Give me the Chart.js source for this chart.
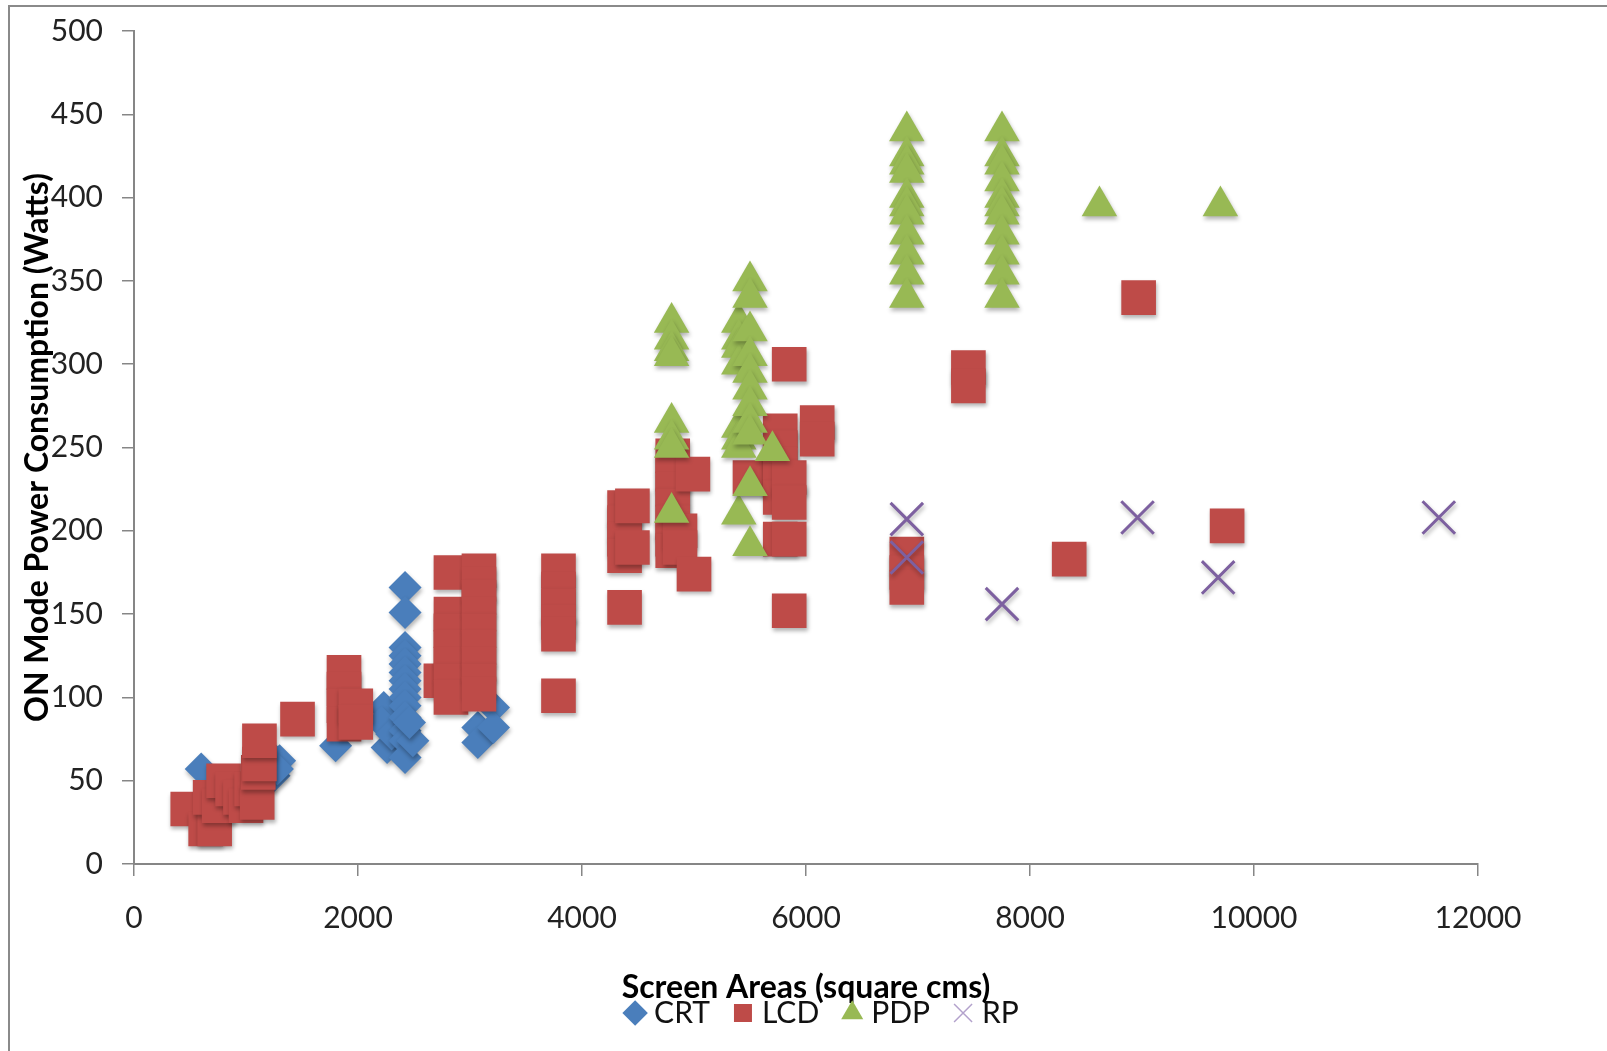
<!DOCTYPE html>
<html>
<head>
<meta charset="utf-8">
<script src="https://cdn.jsdelivr.net/npm/chart.js@4.4.1/dist/chart.umd.min.js"></script>
<style>
  html, body { margin: 0; padding: 0; background: #fff; }
  canvas { display: block; }
</style>
</head>
<body>
<canvas id="chart" width="1607" height="1051"></canvas>
<script>
// [screen area (sq cm), on mode power (W)]
const crtPoints = [
  [600, 57], [1200, 60], [1250, 63], [1250, 53], [1300, 62], [1280, 57],
  [1800, 71],
  [2230, 94], [2210, 85], [2260, 70], [2300, 78],
  [2420, 166], [2420, 151], [2420, 130], [2420, 125], [2420, 120], [2420, 115],
  [2420, 110], [2420, 105], [2420, 100], [2420, 95], [2420, 88], [2420, 80],
  [2420, 74], [2420, 64],
  [2490, 74], [2460, 85],
  [3070, 82], [3070, 73], [3210, 94], [3210, 82]
];

const lcdPoints = [
  [480, 33], [640, 21], [720, 21], [680, 40], [760, 35], [800, 50], [880, 45],
  [950, 40], [1000, 35], [1050, 45], [1100, 37], [1110, 55], [1120, 60], [1120, 74],
  [1460, 87],
  [1875, 115], [1875, 105], [1875, 95], [1875, 84], [1980, 95], [1980, 85],
  [2740, 110], [2830, 175], [2830, 150], [2830, 140], [2830, 130], [2830, 120],
  [2830, 110], [2830, 100],
  [3080, 176], [3080, 168], [3080, 160], [3080, 150], [3080, 140], [3080, 130],
  [3080, 120], [3080, 110], [3080, 102],
  [3790, 176], [3790, 165], [3790, 155], [3790, 145], [3790, 138], [3790, 101],
  [4380, 214], [4380, 205], [4380, 195], [4380, 185], [4380, 154], [4450, 215], [4450, 190],
  [4810, 245], [4810, 234], [4810, 225], [4810, 215], [4810, 205], [4810, 195], [4810, 188],
  [4875, 200], [4875, 190], [4990, 234], [5000, 174],
  [5500, 232], [5770, 260], [5770, 250], [5770, 240], [5770, 230], [5770, 220], [5770, 195],
  [5850, 300], [5850, 232], [5850, 217], [5850, 195], [5850, 152], [6100, 265], [6100, 255],
  [6900, 186], [6900, 175], [6900, 166], [7450, 298], [7450, 287], [8350, 183],
  [8970, 340], [9760, 203]
];

const pdpPoints = [
  [4800, 325], [4800, 315], [4800, 308], [4800, 305], [4800, 265], [4800, 255], [4800, 250], [4800, 211],
  [5400, 325], [5400, 315], [5400, 310], [5400, 300], [5400, 262], [5400, 255], [5400, 250], [5400, 210],
  [5500, 350], [5500, 340], [5500, 320], [5500, 305], [5500, 295], [5500, 285], [5500, 275],
  [5500, 265], [5500, 258], [5500, 227], [5500, 191],
  [5700, 248],
  [6900, 440], [6900, 425], [6900, 420], [6900, 415], [6900, 400], [6900, 395], [6900, 390],
  [6900, 378], [6900, 366], [6900, 354], [6900, 340],
  [7750, 440], [7750, 425], [7750, 420], [7750, 410], [7750, 400], [7750, 395], [7750, 390],
  [7750, 378], [7750, 366], [7750, 354], [7750, 340],
  [8620, 395], [9700, 395]
];

const rpPoints = [
  [6900, 207], [6900, 184], [7750, 156], [8960, 208], [9680, 172], [11650, 208]
];

const categories = ["CRT", "LCD", "PDP", "RP"];
const xTickValues = [0, 2000, 4000, 6000, 8000, 10000, 12000];
const yTickValues = [0, 50, 100, 150, 200, 250, 300, 350, 400, 450, 500];

const FONT = "Lato, 'Open Sans', sans-serif";

function toXY(points){
    return points.map(p => ({x: p[0], y: p[1]}));
}

const frame = {
    id: 'frame',
    beforeDraw(chart){
        const c = chart.ctx;
        c.save();
        c.fillStyle = '#fff';
        c.fillRect(0, 0, chart.width, chart.height);
        c.strokeStyle = '#8a8a8a';
        c.lineWidth = 2;
        c.beginPath();
        c.moveTo(9, chart.height);
        c.lineTo(9, 6);
        c.lineTo(chart.width, 6);
        c.stroke();
        c.restore();
    }
};

// soft drop shadow like the office markers
const markerShadow = {
    id: 'markerShadow',
    beforeDatasetsDraw(chart){
        const c = chart.ctx;
        c.save();
        c.shadowColor = 'rgba(0,0,0,0.3)';
        c.shadowBlur = 4;
        c.shadowOffsetX = 1;
        c.shadowOffsetY = 3;
    },
    afterDatasetsDraw(chart){
        chart.ctx.restore();
    }
};

// nudge the legend row a little right, under the axis title
const legendNudge = {
    id: 'legendNudge',
    afterLayout(chart){
        chart.legend.left += 19;
        chart.legend.right += 19;
    }
};

// later series sit on top, as in the original
const datasets = [
    {
        label: categories[0],
        data: toXY(crtPoints),
        order: 4,
        pointStyle: 'rectRot',
        pointRadius: 16.5,
        backgroundColor: '#4a7ebb',
        borderColor: '#4a7ebb',
        borderWidth: 0
    },
    {
        label: categories[1],
        data: toXY(lcdPoints),
        order: 3,
        pointStyle: 'rect',
        pointRadius: 24.5,
        backgroundColor: '#be4b48',
        borderColor: '#be4b48',
        borderWidth: 0
    },
    {
        label: categories[2],
        data: toXY(pdpPoints),
        order: 2,
        pointStyle: 'triangle',
        pointRadius: 20.5,
        backgroundColor: '#98b954',
        borderColor: '#98b954',
        borderWidth: 0
    },
    {
        label: categories[3],
        data: toXY(rpPoints),
        order: 1,
        pointStyle: 'crossRot',
        pointRadius: 23,
        backgroundColor: '#7d60a0',
        borderColor: '#7d60a0',
        borderWidth: 3
    }
];

new Chart(document.getElementById('chart'), {
    type: 'scatter',
    data: { datasets: datasets },
    plugins: [frame, markerShadow, legendNudge],
    options: {
        responsive: false,
        animation: false,
        events: [],
        clip: false,
        layout: { padding: { left: 10, right: 129, top: 31, bottom: 13 } },
        plugins: {
            tooltip: { enabled: false },
            legend: {
                position: 'bottom',
                fullSize: false,
                labels: {
                    usePointStyle: true,
                    boxWidth: 8,
                    boxHeight: 18,
                    padding: 29,
                    color: '#111',
                    font: { family: FONT, size: 30 },
                    sort: (a, b) => a.datasetIndex - b.datasetIndex,
                    generateLabels(chart){
                        const items = Chart.defaults.plugins.legend.labels.generateLabels(chart);
                        items.forEach(it => {
                            if (it.text === 'RP'){
                                it.strokeStyle = '#b3a2cc';
                                it.lineWidth = 1.5;
                            }
                        });
                        return items;
                    }
                }
            }
        },
        scales: {
            x: {
                type: 'linear',
                min: 0,
                max: 12000,
                afterBuildTicks: s => { s.ticks = xTickValues.map(v => ({value: v})); },
                afterFit: s => { s.height = 105; },
                grid: { drawOnChartArea: false, tickLength: 12, color: '#868686', lineWidth: 1.5 },
                border: { color: '#868686', width: 2 },
                ticks: {
                    padding: 24,
                    color: '#222',
                    font: { family: FONT, size: 30 },
                    callback: v => String(v)
                },
                title: {
                    display: true,
                    text: 'Screen Areas (square cms)',
                    color: '#000',
                    font: { family: FONT, size: 32, weight: 'bold', lineHeight: 1 },
                    padding: { top: 0, bottom: -35 }
                }
            },
            y: {
                type: 'linear',
                min: 0,
                max: 500,
                afterBuildTicks: s => { s.ticks = yTickValues.map(v => ({value: v})); },
                afterFit: s => { s.width = 124; s.paddingTop = 0; s.paddingBottom = 0; },
                grid: { drawOnChartArea: false, tickLength: 12, color: '#868686', lineWidth: 1.5 },
                border: { color: '#868686', width: 2 },
                ticks: {
                    padding: 19,
                    color: '#222',
                    font: { family: FONT, size: 30 },
                    callback: v => String(v)
                },
                title: {
                    display: true,
                    text: 'ON Mode Power Consumption (Watts)',
                    color: '#000',
                    font: { family: FONT, size: 32, weight: 'bold', lineHeight: 1 },
                    padding: { top: 12, bottom: 0 }
                }
            }
        }
    }
});
</script>
</body>
</html>
